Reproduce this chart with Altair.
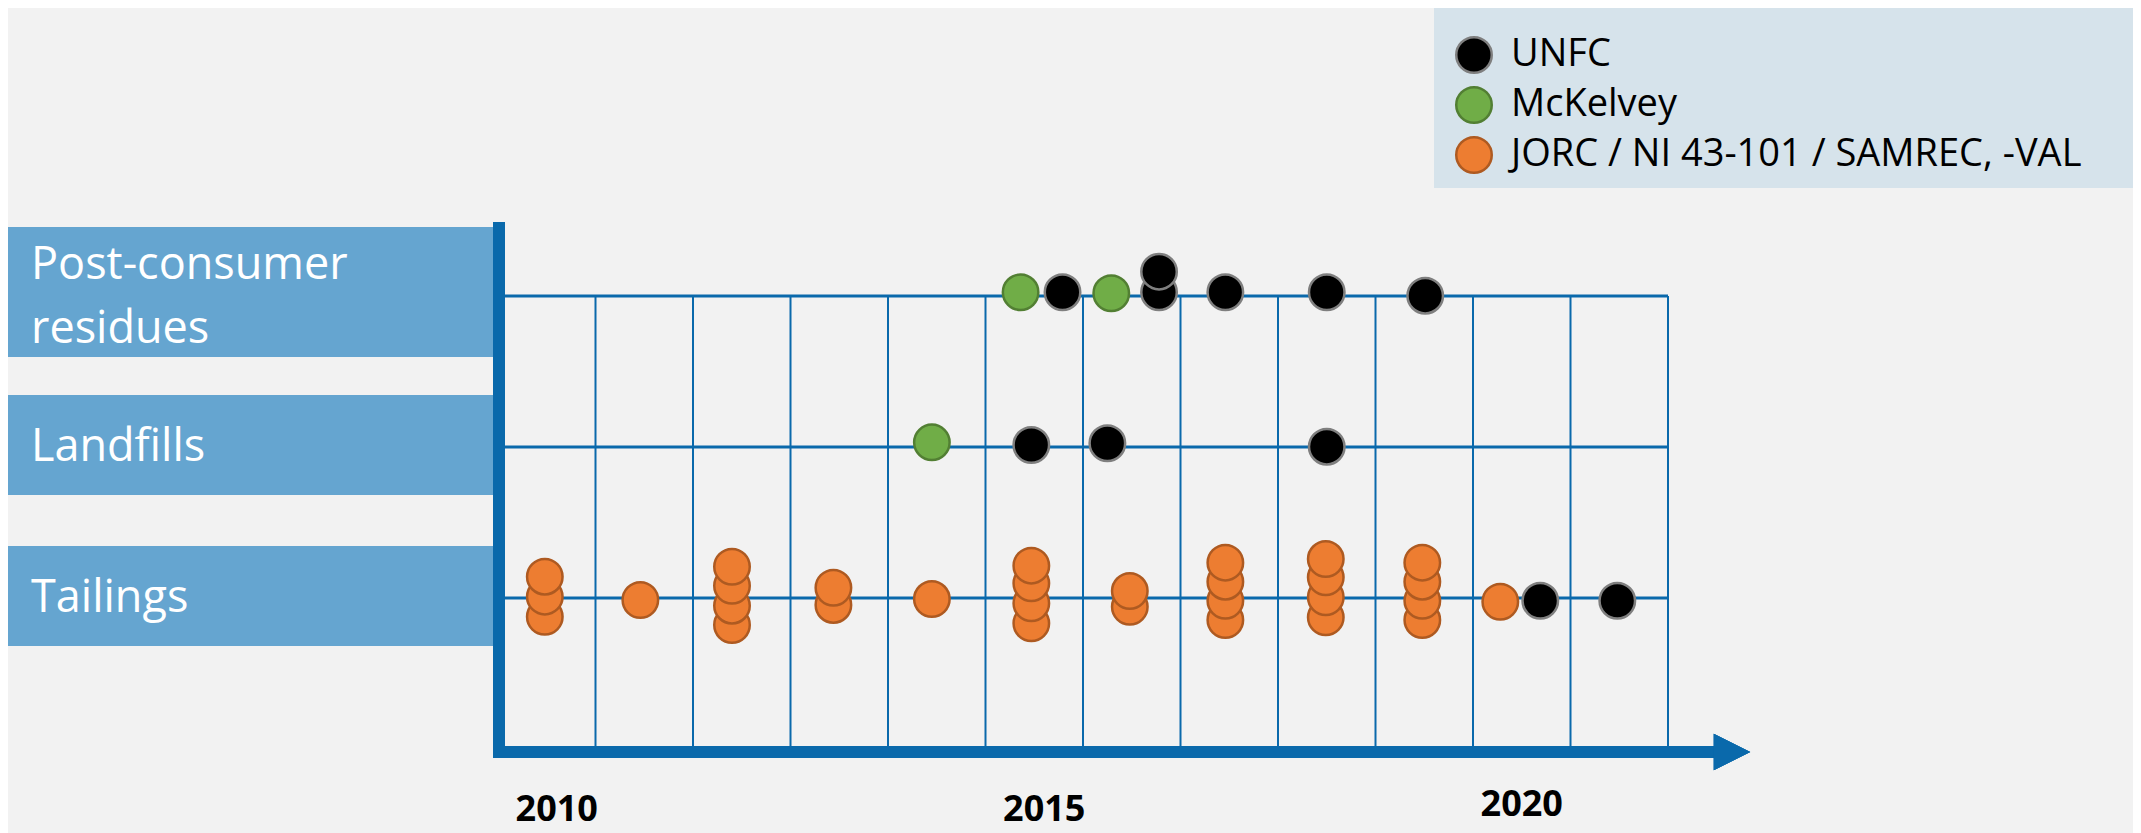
import altair as alt
import pandas as pd

# ---------------- data ----------------
row_names = ["Tailings", "Landfills", "Post-consumer\nresidues"]
row_index = [0, 1, 2]
row_lines = [1, 1, 2]

schemes = ["UNFC", "McKelvey", "JORC / NI 43-101 / SAMREC, -VAL"]
scheme_fill = ["#000000", "#70AD47", "#ED7D31"]
scheme_stroke = ["#7F7F7F", "#527F33", "#AE5A21"]

cell_years = list(range(2010, 2022))
year_labels = [2010, 2015, 2020]

J = "JORC / NI 43-101 / SAMREC, -VAL"
dot_row = ["Tailings"] * 32 + ["Landfills"] * 4 + ["Post-consumer\nresidues"] * 8
dot_year = [
    2009.98, 2009.98, 2009.98,
    2010.96,
    2011.90, 2011.90, 2011.90, 2011.90,
    2012.94, 2012.94,
    2013.95,
    2014.97, 2014.97, 2014.97, 2014.97,
    2015.98, 2015.98,
    2016.96, 2016.96, 2016.96, 2016.96,
    2017.99, 2017.99, 2017.99, 2017.99,
    2018.98, 2018.98, 2018.98, 2018.98,
    2019.78,
    2020.19,
    2020.98,
    # landfills
    2013.95, 2014.97, 2015.75, 2018.00,
    # post-consumer
    2014.86, 2015.29, 2015.79, 2016.28, 2016.28, 2016.96, 2018.00, 2019.01,
]
dot_level = [
    0.141, 0.009, -0.124,
    -0.013,
    0.207, 0.081, -0.051, -0.179,
    0.068, -0.046,
    -0.007,
    0.214, 0.097, -0.035, -0.168,
    0.046, -0.058,
    0.234, 0.108, -0.018, -0.146,
    0.258, 0.137, 0.005, -0.128,
    0.234, 0.108, -0.018, -0.146,
    -0.025,
    -0.018,
    -0.018,
    # landfills
    0.031, 0.013, 0.025, 0.002,
    # post-consumer
    0.025, 0.025, 0.018, 0.025, 0.161, 0.025, 0.025, 0.002,
]
dot_scheme = (
    [J] * 30 + ["UNFC", "UNFC"]
    + ["McKelvey", "UNFC", "UNFC", "UNFC"]
    + ["McKelvey", "UNFC", "McKelvey", "UNFC", "UNFC", "UNFC", "UNFC", "UNFC"]
)

# ---------------- layout constants ----------------
W, H = 2125, 825
PX_PER_YEAR = 97.5
GRID_LEFT = 490          # plot px of the left grid edge (year 2009.5)
x_lo = 2009.5 - GRID_LEFT / PX_PER_YEAR
x_hi = x_lo + W / PX_PER_YEAR
PX_PER_ROW = 151
ROW0 = 590               # plot px of the Tailings line
y_lo = -(H - ROW0) / PX_PER_ROW
y_hi = ROW0 / PX_PER_ROW

xs = alt.Scale(domain=[x_lo, x_hi], nice=False, zero=False)
ys = alt.Scale(domain=[y_lo, y_hi], nice=False, zero=False)

BLUE = "#0A69AB"
BOX = "#65A5D0"
FONT = "Open Sans"

rows_df = pd.DataFrame({"name": row_names, "idx": row_index, "lines": row_lines})
rmap = dict(zip(row_names, row_index))
dots_df = pd.DataFrame({
    "row": dot_row, "year": dot_year, "level": dot_level, "scheme": dot_scheme,
})
dots_df["pos"] = dots_df["row"].map(rmap) + dots_df["level"]
dots_df = dots_df.sort_values("pos", kind="stable").reset_index(drop=True)
bounds_df = pd.DataFrame({"b": [y - 0.5 for y in cell_years] + [cell_years[-1] + 0.5]})
years_df = pd.DataFrame({"year": year_labels})

# ---------------- layers ----------------
boxes = alt.Chart(rows_df).transform_calculate(
    top="datum.idx + (datum.lines == 2 ? 69 : 52) / 151",
    bot="datum.idx - (datum.lines == 2 ? 61 : 48) / 151",
).mark_rect(color=BOX).encode(
    x=alt.value(0), x2=alt.value(486),
    y=alt.Y("top:Q", scale=ys, axis=None), y2="bot:Q",
)

row_text = alt.Chart(rows_df).transform_calculate(
    ty="datum.idx + (datum.lines - 1) * 31.5 / 151"
).mark_text(
    align="left", baseline="middle", font=FONT, fontSize=45, color="white",
    lineBreak="\n", lineHeight=64,
).encode(x=alt.value(23), y=alt.Y("ty:Q", scale=ys, axis=None), text="name:N")

legend_box = alt.Chart(rows_df).mark_rect(color="#D6E3EB").encode(
    x=alt.value(1426), x2=alt.value(2125), y=alt.value(0), y2=alt.value(180)
)

vgrid = alt.Chart(bounds_df).mark_rule(color=BLUE, strokeWidth=2).encode(
    x=alt.X("b:Q", scale=xs, axis=None), y=alt.value(288), y2=alt.value(738)
)

hgrid = alt.Chart(rows_df).mark_rule(color=BLUE, strokeWidth=3).encode(
    y=alt.Y("idx:Q", scale=ys, axis=None), x=alt.value(GRID_LEFT), x2=alt.value(1660)
)

vaxis = alt.Chart(rows_df).mark_rule(color=BLUE, strokeWidth=12, strokeCap="butt").encode(
    x=alt.value(491), y=alt.value(214), y2=alt.value(750)
)
haxis = alt.Chart(rows_df).mark_rule(color=BLUE, strokeWidth=12, strokeCap="butt").encode(
    x=alt.value(487), x2=alt.value(1707), y=alt.value(744)
)
arrow = alt.Chart(rows_df).mark_point(
    shape="M-1,-1L1,0L-1,1Z", filled=True, size=1332, color=BLUE, opacity=1
).encode(x=alt.value(1724), y=alt.value(744))

leg = alt.Legend(
    orient="none", legendX=1447, legendY=28, title=None,
    labelFont=FONT, labelFontSize=38, labelColor="black", labelLimit=0,
    symbolType="circle", symbolSize=1260, symbolStrokeWidth=2.5,
    rowPadding=4, labelOffset=18, padding=0,
)
dots = alt.Chart(dots_df).mark_point(
    filled=True, shape="circle", size=1260, strokeWidth=2.5, opacity=1
).encode(
    x=alt.X("year:Q", scale=xs, axis=None),
    y=alt.Y("pos:Q", scale=ys, axis=None),
    fill=alt.Fill("scheme:N", scale=alt.Scale(domain=schemes, range=scheme_fill), legend=leg),
    stroke=alt.Stroke("scheme:N", scale=alt.Scale(domain=schemes, range=scheme_stroke), legend=leg),
)

ylab_a = alt.Chart(years_df).transform_filter("datum.year < 2020").mark_text(
    font=FONT, fontSize=36, fontWeight="bold", color="black", baseline="alphabetic", dx=10
).encode(x=alt.X("year:Q", scale=xs, axis=None), y=alt.value(813), text="year:N")
ylab_b = alt.Chart(years_df).transform_filter("datum.year >= 2020").mark_text(
    font=FONT, fontSize=36, fontWeight="bold", color="black", baseline="alphabetic"
).encode(x=alt.X("year:Q", scale=xs, axis=None), y=alt.value(808), text="year:N")

chart = alt.layer(
    legend_box, boxes, row_text, vgrid, hgrid, vaxis, haxis, arrow, dots, ylab_a, ylab_b
).properties(
    width=W, height=H, padding=0, background="#F2F2F2",
    autosize=alt.AutoSizeParams(type="none"),
).configure_view(stroke=None)

chart.save("out.html", embed_options={"renderer": "svg", "actions": False})
